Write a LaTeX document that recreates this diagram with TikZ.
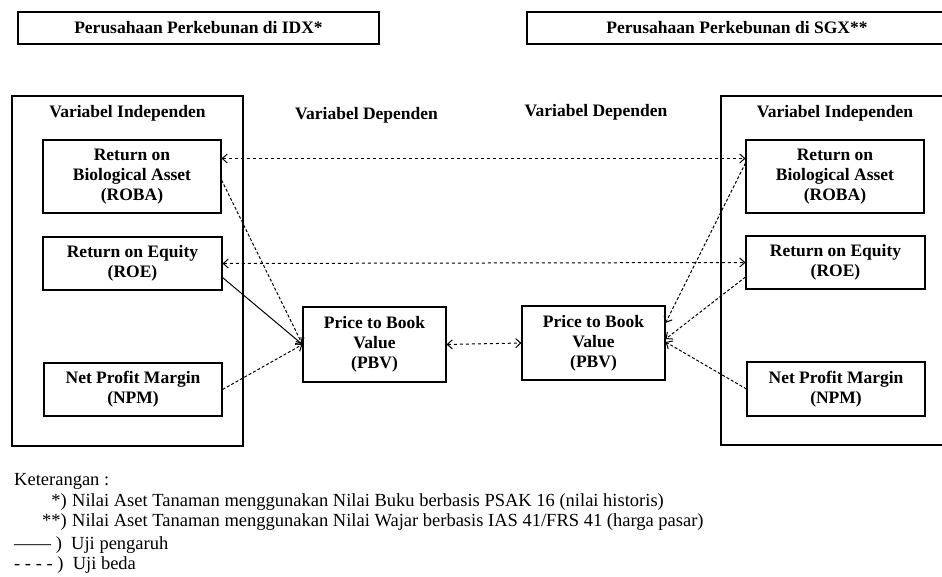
\documentclass[tikz,border=0pt]{standalone}
\usepackage{fontspec}
\setmainfont{Liberation Serif}
\usetikzlibrary{arrows.meta}
\begin{document}
\begin{tikzpicture}[x=1pt, y=-1pt,
  >={Straight Barb[length=5pt, width=9pt]},
  judul/.style={draw, line width=1.1pt, font=\fontsize{17.5}{20}\selectfont\bfseries},
  kotak/.style={draw, line width=1.1pt, align=center, font=\fontsize{17.5}{20}\selectfont\bfseries},
  teks/.style={font=\fontsize{17.5}{20}\selectfont\bfseries},
  ket/.style={font=\fontsize{18.5}{20}\selectfont, anchor=west, inner sep=0pt},
  uji/.style={line width=1pt, densely dashed, ->},
  beda/.style={line width=1pt, dashed, <->}]
\useasboundingbox (0,0) rectangle (942,576);
% judul
\node[judul, minimum width=361, minimum height=32] (idx) at (198.5,28) {Perusahaan Perkebunan di IDX*};
\node[judul, minimum width=420, minimum height=32] (sgx) at (737,28) {Perusahaan Perkebunan di SGX**};
% kelompok kiri
\node[draw, line width=1.1pt, minimum width=231, minimum height=350] (indepL) at (127.5,271) {};
\node[teks] (lblIndepL) at (127.5,113) {Variabel Independen};
\node[kotak, minimum width=178, minimum height=73] (robaL) at (132,176.5) {Return on\\Biological Asset\\(ROBA)};
\node[kotak, minimum width=179, minimum height=53] (roeL) at (132.5,263.5) {Return on Equity\\(ROE)};
\node[kotak, minimum width=178, minimum height=53] (npmL) at (133,389.5) {Net Profit Margin\\(NPM)};
\node[teks] (lblDepL) at (366.5,115) {Variabel Dependen};
\node[kotak, minimum width=143, minimum height=75] (pbvL) at (374.5,344.5) {Price to Book\\Value\\(PBV)};
% kelompok kanan
\node[draw, line width=1.1pt, minimum width=240, minimum height=349] (indepR) at (841,270.5) {};
\node[teks] (lblIndepR) at (835,113) {Variabel Independen};
\node[kotak, minimum width=178, minimum height=73] (robaR) at (835,176.5) {Return on\\Biological Asset\\(ROBA)};
\node[kotak, minimum width=179, minimum height=53] (roeR) at (835.5,262.5) {Return on Equity\\(ROE)};
\node[kotak, minimum width=178, minimum height=54] (npmR) at (836,389) {Net Profit Margin\\(NPM)};
\node[teks] (lblDepR) at (596,112) {Variabel Dependen};
\node[kotak, minimum width=143, minimum height=74] (pbvR) at (593.5,343) {Price to Book\\Value\\(PBV)};
% uji beda
\draw[beda] ([yshift=18pt]robaL.east) -- ([yshift=18pt]robaR.west);
\draw[beda] (roeL.east) -- (roeR.west);
\draw[beda] (pbvL.east) -- (pbvR.west);
% uji pengaruh
\draw[uji] ([yshift=-3.5pt]robaL.east) -- (pbvL.west);
\draw[uji, solid] ([yshift=-14pt]roeL.east) -- (pbvL.west);
\draw[uji] (npmL.east) -- (pbvL.west);
\draw[uji] ([yshift=13.5pt]robaR.west) -- ([yshift=20pt]pbvR.east);
\draw[uji] ([yshift=-14.5pt]roeR.west) -- ([yshift=4pt]pbvR.east);
\draw[uji] (npmR.west) -- ([yshift=1pt]pbvR.east);
% keterangan
\node[ket] (ket0) at (14,481) {Keterangan :};
\node[ket, anchor=east] (tanda1) at (67,502) {*)};
\node[ket] (ket1) at (72,502) {Nilai Aset Tanaman menggunakan Nilai Buku berbasis PSAK 16 (nilai historis)};
\node[ket, anchor=east] (tanda2) at (67,522) {**)};
\node[ket] (ket2) at (72,522) {Nilai Aset Tanaman menggunakan Nilai Wajar berbasis IAS 41/FRS 41 (harga pasar)};
\node[ket] (ket3) at (14,545) {—— )\ \ Uji pengaruh};
\node[ket] (ket4) at (14,565) {- - - - )\ \ Uji beda};
\end{tikzpicture}
\end{document}
